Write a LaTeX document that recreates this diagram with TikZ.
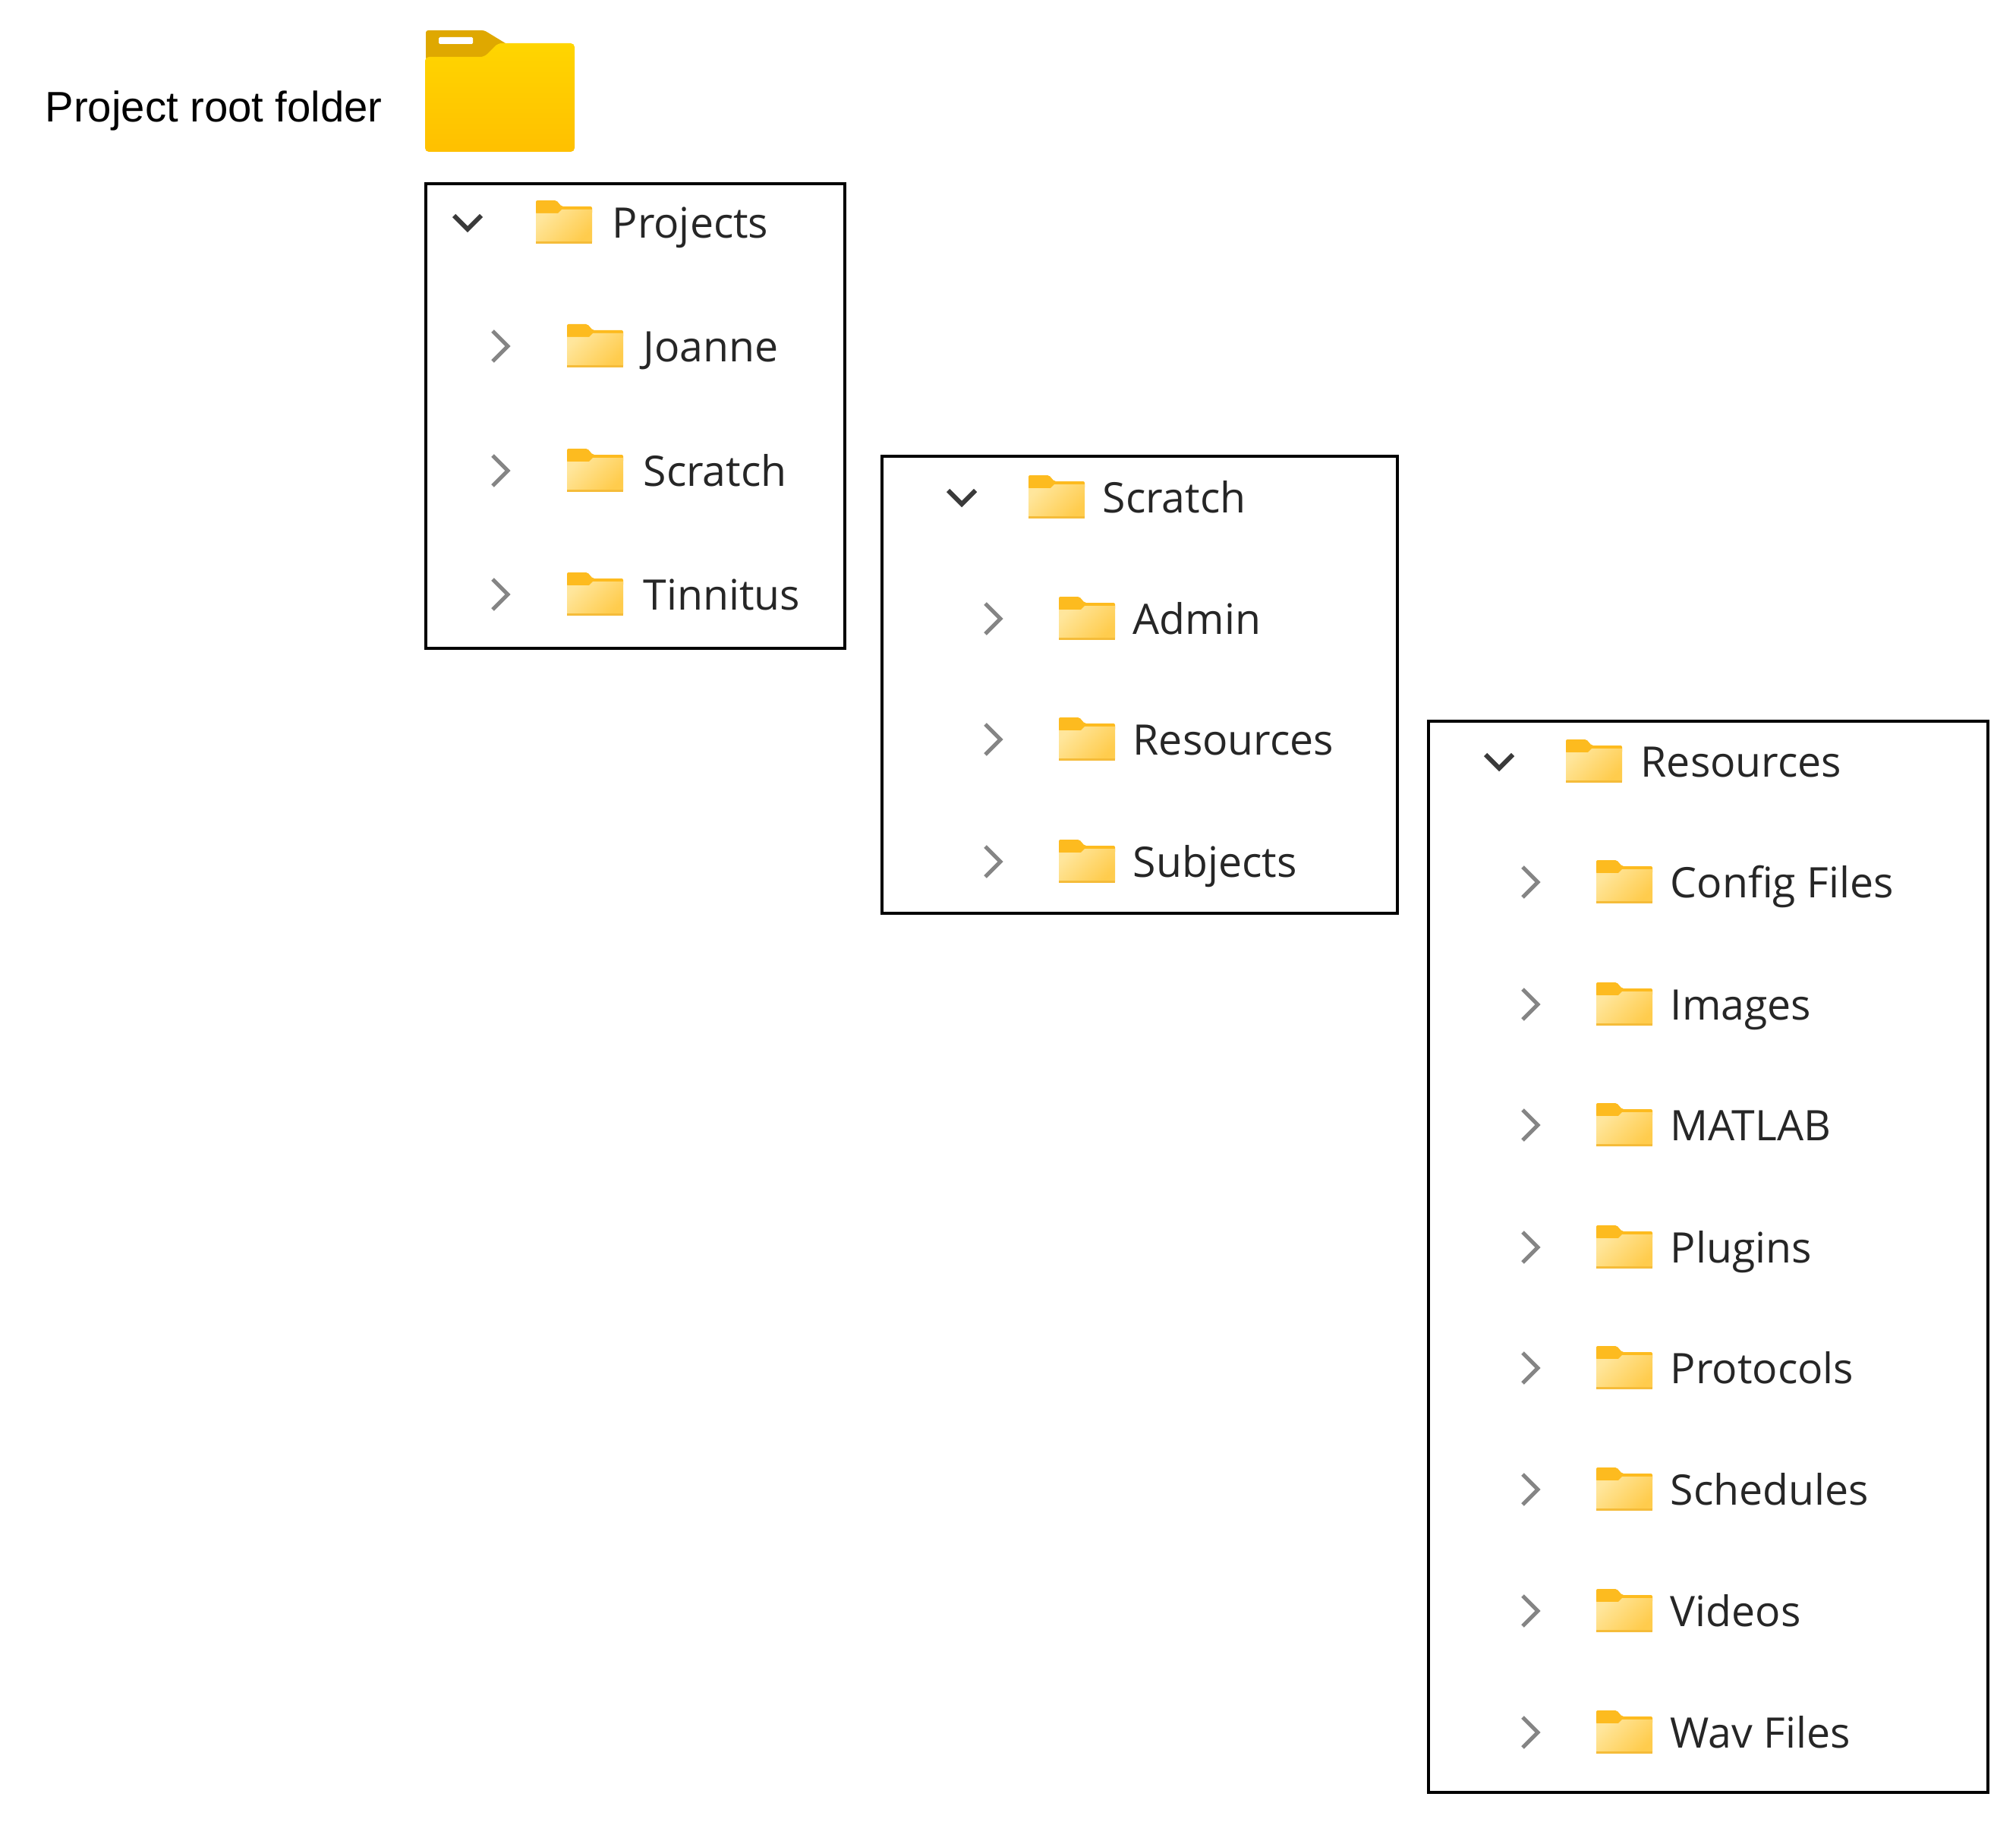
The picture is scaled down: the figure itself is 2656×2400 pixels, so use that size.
\documentclass[tikz,border=0pt]{standalone}
\usepackage{fontspec}
\setmainfont{Open Sans}
\newfontfamily\arialfont{Liberation Sans}
\usepackage{xcolor}
\usetikzlibrary{positioning}
\definecolor{rootyellow}{HTML}{FFD500}
\definecolor{rootamber}{HTML}{FFC000}
\definecolor{roottab}{HTML}{DFA800}
\definecolor{foldertab}{HTML}{FDBB1F}
\definecolor{folderlight}{HTML}{FFE69C}
\definecolor{folderdeep}{HTML}{FFCC4D}
\definecolor{folderedge}{HTML}{F5BC3A}
\definecolor{chevdark}{HTML}{3A3A3A}
\definecolor{chevgray}{HTML}{858585}
\definecolor{treetext}{HTML}{262626}

\begin{document}
\begin{tikzpicture}[
  x=0.01cm,y=-0.01cm,
  panel/.style={draw=black,line width=0.04cm,minimum width=0,inner sep=0},
  treelabel/.style={anchor=west,inner sep=0,text=treetext,font=\fontsize{15.75}{18}\selectfont,
    text height=0.32cm,text depth=0.1cm,yshift=-0.09cm},
  rootlabel/.style={anchor=west,inner sep=0,font=\arialfont\fontsize{16}{18}\selectfont},
  smallfolder/.pic={
    \fill[foldertab,rounded corners=0.02cm] (-37,-29) -- (-10,-29) -- (-3,-21) -- (37,-21) -- (37,-11) -- (-37,-11) -- cycle;
    \shade[left color=folderlight,right color=folderdeep,shading angle=45] (-37,-12) -- (-8,-12) -- (-3,-17) -- (37,-17) -- (37,26) -- (-37,26) -- cycle;
    \fill[folderedge] (-37,25) rectangle (37,28);
  },
  chevdown/.pic={\draw[chevdark,line width=0.06cm,line join=miter] (-18,-9) -- (0,9) -- (18,-9);},
  chevright/.pic={\draw[chevgray,line width=0.05cm] (-10,-20) -- (10,0) -- (-10,20);}
]
\useasboundingbox (0,0) rectangle (2656,2400);
% root folder
\node[rootlabel] (rootname) at (59,146) {Project root folder};
\fill[roottab,rounded corners=0.03cm] (561,40) -- (638,40) -- (666,57) -- (700,80) -- (561,80) -- cycle;
\fill[white,rounded corners=0.015cm] (578,49) rectangle (623,58);
\shade[top color=rootyellow,bottom color=rootamber,rounded corners=0.05cm] (560,75) -- (638,75) -- (656,57) -- (757,57) -- (757,200) -- (560,200) -- cycle;
% panels
\draw[panel] (561,242) rectangle (1113,854);
\draw[panel] (1162,601) rectangle (1841,1203);
\draw[panel] (1882,950) rectangle (2619,2361);
% first panel
\pic at (616,293) {chevdown};
\pic at (743,293) {smallfolder};
\node[treelabel] (projects) at (806,293) {Projects};
\foreach \name/\rowy/\txt in {joanne/456/Joanne,scratcha/620/Scratch,tinnitus/783/Tinnitus}{
  \pic at (659,\rowy) {chevright};
  \pic at (784,\rowy) {smallfolder};
  \node[treelabel] (\name) at (847,\rowy) {\txt};
}
% second panel
\pic at (1267,655) {chevdown};
\pic at (1392,655) {smallfolder};
\node[treelabel] (scratchb) at (1452,655) {Scratch};
\foreach \name/\rowy/\txt in {admin/815/Admin,resourcesa/974/Resources,subjects/1135/Subjects}{
  \pic at (1308,\rowy) {chevright};
  \pic at (1432,\rowy) {smallfolder};
  \node[treelabel] (\name) at (1492,\rowy) {\txt};
}
% third panel
\pic at (1975,1003) {chevdown};
\pic at (2100,1003) {smallfolder};
\node[treelabel] (resourcesb) at (2161,1003) {Resources};
\foreach \name/\rowy/\txt in {config/1162/Config Files,images/1323/Images,matlab/1482/MATLAB,plugins/1643/Plugins,
  protocols/1802/Protocols,schedules/1962/Schedules,videos/2122/Videos,wavfiles/2282/Wav Files}{
  \pic at (2016,\rowy) {chevright};
  \pic at (2140,\rowy) {smallfolder};
  \node[treelabel] (\name) at (2200,\rowy) {\txt};
}
\end{tikzpicture}
\end{document}
